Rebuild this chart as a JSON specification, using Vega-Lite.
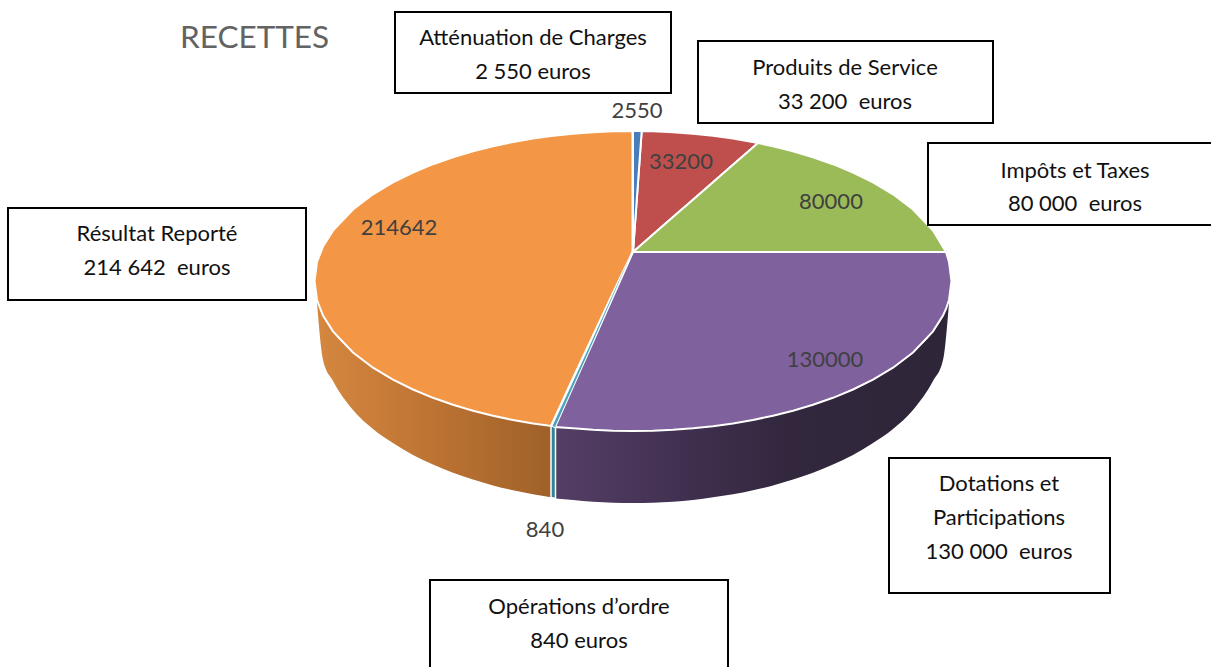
{
"$schema":"https://vega.github.io/schema/vega-lite/v6.json",
"width":1211,"height":667,"padding":0,"autosize":"none","background":"white",
"config":{"view":{"stroke":null}},
"datasets":{
"wallLeft":[{"x":317,"y":300,"y2":303},{"x":323,"y":315.5,"y2":360},{"x":333,"y":331.4,"y2":381},{"x":353,"y":352.5,"y2":410},{"x":373,"y":367.7,"y2":429},{"x":393,"y":379.6,"y2":443},{"x":413,"y":389.5,"y2":455},{"x":433,"y":397.8,"y2":464.5},{"x":453,"y":404.8,"y2":472.7},{"x":473,"y":410.7,"y2":479.6},{"x":493,"y":415.7,"y2":485.4},{"x":513,"y":420,"y2":490.3},{"x":533,"y":423.4,"y2":494.3},{"x":551,"y":425.9,"y2":497.2}],
"wallTeal":[{"x":551,"y":426,"y2":497.5},{"x":555.5,"y":427,"y2":498.5}],
"wallRight":[{"x":555.5,"y":427,"y2":498.5},{"x":573,"y":428.3,"y2":500},{"x":593,"y":429.8,"y2":501.7},{"x":613,"y":430.7,"y2":502.7},{"x":633,"y":431,"y2":503},{"x":653,"y":430.7,"y2":502.7},{"x":673,"y":429.8,"y2":501.7},{"x":693,"y":428.3,"y2":500},{"x":713,"y":426.2,"y2":497.2},{"x":733,"y":423.4,"y2":494.3},{"x":753,"y":420,"y2":490.3},{"x":773,"y":415.7,"y2":485.4},{"x":793,"y":410.7,"y2":479.6},{"x":813,"y":404.8,"y2":472.7},{"x":833,"y":397.8,"y2":464.5},{"x":853,"y":389.5,"y2":455},{"x":873,"y":379.6,"y2":443},{"x":893,"y":367.7,"y2":429},{"x":913,"y":352.5,"y2":410},{"x":933,"y":331.4,"y2":381},{"x":943,"y":315.5,"y2":360},{"x":949,"y":300,"y2":303}],
"slices":[
{"slice":"Résultat Reporté","x":314.5,"y":281,"y2":281},{"slice":"Résultat Reporté","x":317,"y":262,"y2":300},{"slice":"Résultat Reporté","x":323,"y":246.5,"y2":315.5},{"slice":"Résultat Reporté","x":333,"y":230.6,"y2":331.4},{"slice":"Résultat Reporté","x":353,"y":209.5,"y2":352.5},{"slice":"Résultat Reporté","x":373,"y":194.3,"y2":367.7},{"slice":"Résultat Reporté","x":393,"y":182.4,"y2":379.6},{"slice":"Résultat Reporté","x":413,"y":172.5,"y2":389.5},{"slice":"Résultat Reporté","x":433,"y":164.2,"y2":397.8},{"slice":"Résultat Reporté","x":453,"y":157.2,"y2":404.8},{"slice":"Résultat Reporté","x":473,"y":151.3,"y2":410.7},{"slice":"Résultat Reporté","x":493,"y":146.3,"y2":415.7},{"slice":"Résultat Reporté","x":513,"y":142,"y2":420},{"slice":"Résultat Reporté","x":533,"y":138.6,"y2":423.4},{"slice":"Résultat Reporté","x":551,"y":136.1,"y2":425.9},{"slice":"Résultat Reporté","x":573,"y":133.7,"y2":378},{"slice":"Résultat Reporté","x":593,"y":132.2,"y2":335.3},{"slice":"Résultat Reporté","x":613,"y":131.3,"y2":292.6},{"slice":"Résultat Reporté","x":632.5,"y":131,"y2":252},
{"slice":"Produits de Service","x":633,"y":252,"y2":252},{"slice":"Produits de Service","x":641.7,"y":131,"y2":244.4},{"slice":"Produits de Service","x":653,"y":131.3,"y2":234.6},{"slice":"Produits de Service","x":673,"y":132.2,"y2":217.1},{"slice":"Produits de Service","x":693,"y":133.7,"y2":199.7},{"slice":"Produits de Service","x":713,"y":135.8,"y2":182.2},{"slice":"Produits de Service","x":733,"y":138.6,"y2":164.8},{"slice":"Produits de Service","x":758,"y":143,"y2":143},
{"slice":"Atténuation de Charges","x":633,"y":131,"y2":252},{"slice":"Atténuation de Charges","x":641,"y":131,"y2":140.8},{"slice":"Atténuation de Charges","x":641.7,"y":131,"y2":131},
{"slice":"Impôts et Taxes","x":633,"y":252,"y2":252},{"slice":"Impôts et Taxes","x":653,"y":234.6,"y2":252},{"slice":"Impôts et Taxes","x":673,"y":217.1,"y2":252},{"slice":"Impôts et Taxes","x":693,"y":199.7,"y2":252},{"slice":"Impôts et Taxes","x":713,"y":182.2,"y2":252},{"slice":"Impôts et Taxes","x":733,"y":164.8,"y2":252},{"slice":"Impôts et Taxes","x":758,"y":143,"y2":252},{"slice":"Impôts et Taxes","x":773,"y":146.3,"y2":252},{"slice":"Impôts et Taxes","x":793,"y":151.3,"y2":252},{"slice":"Impôts et Taxes","x":813,"y":157.2,"y2":252},{"slice":"Impôts et Taxes","x":833,"y":164.2,"y2":252},{"slice":"Impôts et Taxes","x":853,"y":172.5,"y2":252},{"slice":"Impôts et Taxes","x":873,"y":182.4,"y2":252},{"slice":"Impôts et Taxes","x":893,"y":194.3,"y2":252},{"slice":"Impôts et Taxes","x":913,"y":209.5,"y2":252},{"slice":"Impôts et Taxes","x":933,"y":230.6,"y2":252},{"slice":"Impôts et Taxes","x":946,"y":252,"y2":252},
{"slice":"Dotations et Participations","x":555,"y":427,"y2":427},{"slice":"Dotations et Participations","x":573,"y":386.6,"y2":428.3},{"slice":"Dotations et Participations","x":593,"y":341.8,"y2":429.8},{"slice":"Dotations et Participations","x":613,"y":296.9,"y2":430.7},{"slice":"Dotations et Participations","x":633,"y":252,"y2":431},{"slice":"Dotations et Participations","x":653,"y":252,"y2":430.7},{"slice":"Dotations et Participations","x":673,"y":252,"y2":429.8},{"slice":"Dotations et Participations","x":693,"y":252,"y2":428.3},{"slice":"Dotations et Participations","x":713,"y":252,"y2":426.2},{"slice":"Dotations et Participations","x":733,"y":252,"y2":423.4},{"slice":"Dotations et Participations","x":753,"y":252,"y2":420},{"slice":"Dotations et Participations","x":773,"y":252,"y2":415.7},{"slice":"Dotations et Participations","x":793,"y":252,"y2":410.7},{"slice":"Dotations et Participations","x":813,"y":252,"y2":404.8},{"slice":"Dotations et Participations","x":833,"y":252,"y2":397.8},{"slice":"Dotations et Participations","x":853,"y":252,"y2":389.5},{"slice":"Dotations et Participations","x":873,"y":252,"y2":379.6},{"slice":"Dotations et Participations","x":893,"y":252,"y2":367.7},{"slice":"Dotations et Participations","x":913,"y":252,"y2":352.5},{"slice":"Dotations et Participations","x":933,"y":252,"y2":331.4},{"slice":"Dotations et Participations","x":943,"y":252,"y2":315.5},{"slice":"Dotations et Participations","x":946,"y":252,"y2":309},{"slice":"Dotations et Participations","x":949,"y":262,"y2":300},{"slice":"Dotations et Participations","x":951.5,"y":281,"y2":281}
],
"sliver":[{"slice":"Opérations d’ordre","x":552.5,"y":426,"y2":426},{"slice":"Opérations d’ordre","x":555,"y":420.6,"y2":427},{"slice":"Opérations d’ordre","x":590,"y":345,"y2":348.5},{"slice":"Opérations d’ordre","x":632,"y":252,"y2":252}],
"boxes":[{"name":"Atténuation de Charges","x":395,"x2":671,"y":12,"y2":93},{"name":"Produits de Service","x":698,"x2":993,"y":41,"y2":123},{"name":"Impôts et Taxes","x":928,"x2":1214,"y":143,"y2":225},{"name":"Résultat Reporté","x":8,"x2":306,"y":208,"y2":300},{"name":"Dotations et Participations","x":889,"x2":1110,"y":458,"y2":593},{"name":"Opérations d’ordre","x":430,"x2":728,"y":580,"y2":672}],
"boxText":[{"t":"Atténuation de Charges","x":533,"y":38},{"t":"2 550 euros","x":533,"y":72},{"t":"Produits de Service","x":845,"y":68},{"t":"33 200 \u00a0euros","x":845,"y":102},{"t":"Impôts et Taxes","x":1075,"y":171},{"t":"80 000 \u00a0euros","x":1075,"y":204},{"t":"Résultat Reporté","x":157,"y":234},{"t":"214 642 \u00a0euros","x":157,"y":268},{"t":"Dotations et","x":999,"y":484},{"t":"Participations","x":999,"y":518},{"t":"130 000 \u00a0euros","x":999,"y":552},{"t":"Opérations d’ordre","x":579,"y":607},{"t":"840 euros","x":579,"y":641}],
"values":[{"value":2550,"x":637,"y":111},{"value":33200,"x":681,"y":162},{"value":80000,"x":831,"y":202},{"value":130000,"x":825,"y":360},{"value":840,"x":545,"y":530},{"value":214642,"x":399,"y":228}],
"title":[{"t":"RECETTES","x":180,"y":39}]
},
"encoding":{
"x":{"field":"x","type":"quantitative","axis":null,"scale":{"domain":[0,1211],"nice":false,"zero":false}},
"y":{"field":"y","type":"quantitative","axis":null,"stack":false,"scale":{"domain":[667,0],"nice":false,"zero":false}}
},
"layer":[
{"data":{"name":"wallLeft"},"mark":{"type":"area","interpolate":"monotone","color":{"gradient":"linear","x1":0,"y1":0,"x2":1,"y2":0,"stops":[{"offset":0,"color":"#D5873F"},{"offset":0.5,"color":"#BC7333"},{"offset":1,"color":"#9F6129"}]}},"encoding":{"y2":{"field":"y2"}}},
{"data":{"name":"wallRight"},"mark":{"type":"area","interpolate":"monotone","color":{"gradient":"linear","x1":0,"y1":0,"x2":1,"y2":0,"stops":[{"offset":0,"color":"#553E66"},{"offset":0.35,"color":"#3F2F4E"},{"offset":0.6,"color":"#32273D"},{"offset":1,"color":"#2F2538"}]}},"encoding":{"y2":{"field":"y2"}}},
{"data":{"name":"wallTeal"},"mark":{"type":"area","color":"#2F8299","stroke":"white","strokeWidth":1.5},"encoding":{"y2":{"field":"y2"}}},
{"data":{"name":"slices"},"mark":{"type":"area","stroke":"white","strokeWidth":2},"encoding":{"y2":{"field":"y2"},"color":{"field":"slice","type":"nominal","legend":null,"scale":{"domain":["Atténuation de Charges","Produits de Service","Impôts et Taxes","Dotations et Participations","Résultat Reporté"],"range":["#4A7EBB","#BE4F4D","#9BBB59","#7F619D","#F39645"]}}}},
{"data":{"name":"sliver"},"mark":{"type":"area","color":"#4BA3BC"},"encoding":{"y2":{"field":"y2"}}},
{"data":{"name":"boxes"},"mark":{"type":"rect","fill":"white","stroke":"black","strokeWidth":2},"encoding":{"x2":{"field":"x2"},"y2":{"field":"y2"}}},
{"data":{"name":"values"},"mark":{"type":"text","font":"Lato","fontSize":22,"color":"#404040","align":"center","baseline":"middle"},"encoding":{"text":{"field":"value","type":"quantitative","format":"d"}}},
{"data":{"name":"boxText"},"mark":{"type":"text","font":"Lato","fontSize":22,"color":"#111111","align":"center","baseline":"middle"},"encoding":{"text":{"field":"t","type":"nominal"}}},
{"data":{"name":"title"},"mark":{"type":"text","font":"Lato","fontSize":31.5,"color":"#636363","align":"left","baseline":"middle"},"encoding":{"text":{"field":"t","type":"nominal"}}}
]
}
